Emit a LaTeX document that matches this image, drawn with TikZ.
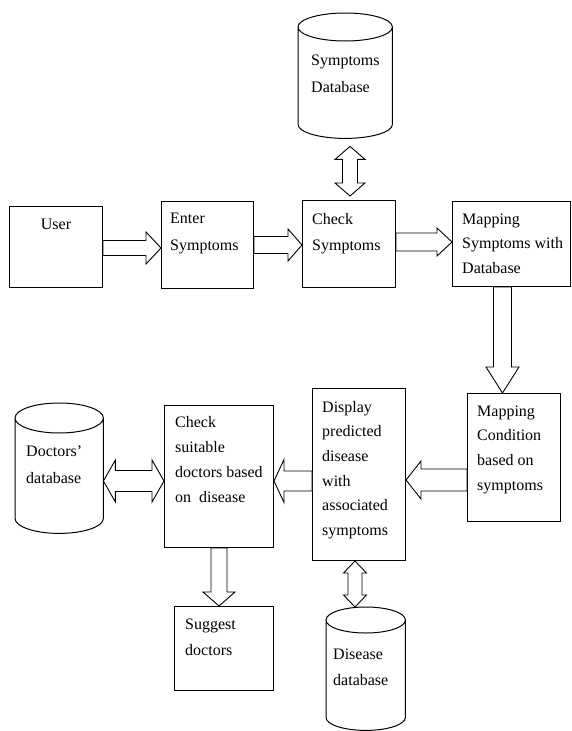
\documentclass[tikz,border=0pt]{standalone}
\usepackage{fontspec}
\setmainfont{Liberation Serif}
\usetikzlibrary{calc}
\tikzset{
  box/.style={draw, line width=1pt, inner sep=0pt, anchor=north west},
  hole/.style={inner sep=0pt, anchor=north west},
  txt/.style={inner sep=0pt, align=left, anchor=north west},
  blk/.style={draw, line width=0.9pt, fill=white, line join=miter},
  cyl/.style={draw, line width=1pt}
}
% right / left single block arrow: from, to, shaft half, head half, head length (signed)
\newcommand\arH[5]{\draw[blk] let \p1=#1,\p2=#2 in
  (\x1,{\y1+#3pt}) -- ({\x2-#5pt},{\y1+#3pt}) -- ({\x2-#5pt},{\y1+#4pt}) -- (\x2,\y1)
  -- ({\x2-#5pt},{\y1-#4pt}) -- ({\x2-#5pt},{\y1-#3pt}) -- (\x1,{\y1-#3pt}) -- cycle;}
% down single block arrow
\newcommand\arD[5]{\draw[blk] let \p1=#1,\p2=#2 in
  ({\x1-#3pt},\y1) -- ({\x1-#3pt},{\y2+#5pt}) -- ({\x1-#4pt},{\y2+#5pt}) -- (\x1,\y2)
  -- ({\x1+#4pt},{\y2+#5pt}) -- ({\x1+#3pt},{\y2+#5pt}) -- ({\x1+#3pt},\y1) -- cycle;}
% double horizontal block arrow (left tip, right tip)
\newcommand\arDH[5]{\draw[blk] let \p1=#1,\p2=#2 in
  (\x1,\y1) -- ({\x1+#5pt},{\y1+#4pt}) -- ({\x1+#5pt},{\y1+#3pt}) -- ({\x2-#5pt},{\y1+#3pt})
  -- ({\x2-#5pt},{\y1+#4pt}) -- (\x2,\y1) -- ({\x2-#5pt},{\y1-#4pt}) -- ({\x2-#5pt},{\y1-#3pt})
  -- ({\x1+#5pt},{\y1-#3pt}) -- ({\x1+#5pt},{\y1-#4pt}) -- cycle;}
% double vertical block arrow (top tip, bottom tip)
\newcommand\arDV[5]{\draw[blk] let \p1=#1,\p2=#2 in
  (\x1,\y1) -- ({\x1+#4pt},{\y1-#5pt}) -- ({\x1+#3pt},{\y1-#5pt}) -- ({\x1+#3pt},{\y2+#5pt})
  -- ({\x1+#4pt},{\y2+#5pt}) -- (\x1,\y2) -- ({\x1-#4pt},{\y2+#5pt}) -- ({\x1-#3pt},{\y2+#5pt})
  -- ({\x1-#3pt},{\y1-#5pt}) -- ({\x1-#4pt},{\y1-#5pt}) -- cycle;}
% cylinder drawn over a named placeholder node: name, rx, ry
\newcommand\cylof[2]{%
  \draw[cyl] let \p1=(#1.north west),\p2=(#1.south east),\p3=(#1.north) in
    (\x3,{\y1-#2pt}) ellipse [x radius={(\x2-\x1)/2}, y radius=#2pt]
    (\x1,{\y1-#2pt}) -- (\x1,{\y2+#2pt})
    arc [start angle=180, end angle=360, x radius={(\x2-\x1)/2}, y radius=#2pt]
    -- (\x2,{\y1-#2pt});}
\newcommand\tx[5]{\node[txt, font=\fontsize{16}{#4}\selectfont] at (#1,{#2-0.7*#4}) (#3) {\strut #5};}
\begin{document}
\begin{tikzpicture}[x=1pt,y=-1pt]
\useasboundingbox (0,0) rectangle (571,731);
% boxes
\node[box, minimum width=93pt, minimum height=81pt] (user) at (9,206) {};
\node[box, minimum width=92pt, minimum height=87pt] (enter) at (161,201) {};
\node[box, minimum width=93pt, minimum height=87pt] (check) at (302,200) {};
\node[box, minimum width=118pt, minimum height=85pt] (mapsym) at (452,201) {};
\node[box, minimum width=93pt, minimum height=128pt] (mapcond) at (467,393) {};
\node[box, minimum width=93pt, minimum height=172pt] (display) at (312,388) {};
\node[box, minimum width=109pt, minimum height=142pt] (checkdoc) at (164,405) {};
\node[box, minimum width=99pt, minimum height=84pt] (suggest) at (174,606) {};
% cylinders
\node[hole, minimum width=94pt, minimum height=125pt] (symdb) at (298,13) {};
\node[hole, minimum width=88pt, minimum height=130pt] (docdb) at (15,403) {};
\node[hole, minimum width=79pt, minimum height=123pt] (disdb) at (326,607) {};
\cylof{symdb}{14}
\cylof{docdb}{15}
\cylof{disdb}{13}
% texts
\node[inner sep=0pt, anchor=base, font=\fontsize{16}{25}\selectfont] (tuser) at (56,229) {User};
\tx{170}{223}{tenter}{27}{Enter\\Symptoms}
\tx{312}{224}{tcheck}{26}{Check\\Symptoms}
\tx{462}{224}{tmapsym}{24.5}{Mapping\\Symptoms with\\Database}
\tx{311}{65}{tsymdb}{27}{Symptoms\\Database}
\tx{175}{427}{tcheckdoc}{25}{Check\\suitable\\doctors based\\on~ disease}
\tx{26}{456}{tdocdb}{27}{Doctors’\\database}
\tx{322}{412}{tdisplay}{24.6}{Display\\predicted\\disease\\with\\associated\\symptoms}
\tx{477}{416}{tmapcond}{24.7}{Mapping\\Condition\\based on\\symptoms}
\tx{333}{659}{tdisdb}{26}{Disease\\database}
\tx{185}{629}{tsuggest}{26}{Suggest\\doctors}
% arrows
\arH{(user.east |- 0,248)}{(enter.west |- 0,248)}{7.5}{16}{15}
\arH{(enter.east |- 0,245)}{(check.west |- 0,245)}{8.5}{16}{14}
\arH{(check.east |- 0,242)}{(mapsym.west |- 0,242)}{9}{14}{15}
\arD{(mapsym.south -| 502.5,0)}{(mapcond.north -| 502.5,0)}{9}{16.5}{26}
\arH{(mapcond.west |- 0,480)}{(display.east |- 0,480)}{11}{19}{-15}
\arH{(display.west |- 0,481)}{(checkdoc.east |- 0,481)}{10}{21.5}{-10}
\arDH{(docdb.east |- 0,481)}{(checkdoc.west |- 0,481)}{10.5}{21}{12}
\arDV{($(symdb.south -| 350,0)+(0,8)$)}{($(check.north -| 350,0)+(0,-4)$)}{7.5}{15}{13}
\arDV{(display.south -| 355,0)}{(disdb.north -| 355,0)}{7}{11.5}{12}
\arD{(checkdoc.south -| 219,0)}{(suggest.north -| 219,0)}{8}{16}{14}
\end{tikzpicture}
\end{document}
